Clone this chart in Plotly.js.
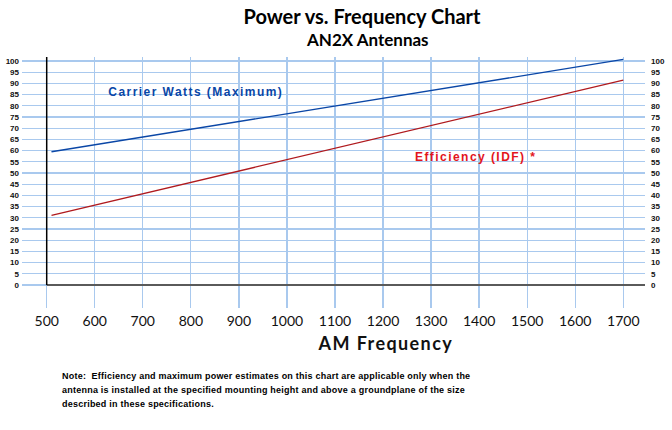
<!DOCTYPE html>
<html>
<head>
<meta charset="utf-8">
<script src="https://cdn.plot.ly/plotly-3.0.1.min.js"></script>
<style>
html,body{margin:0;padding:0;background:#fff;}
#chart{width:672px;height:430px;}
</style>
</head>
<body>
<div id="chart"></div>
<script>
// ---- data ----
const carrierFreq = [510, 1700];
const carrierWatts = [59.5, 100.7];
const effFreq = [510, 1700];
const efficiency = [31.1, 91.5];
const xTicks = [500, 600, 700, 800, 900, 1000, 1100, 1200, 1300, 1400, 1500, 1600, 1700];
const yTicks = [0, 5, 10, 15, 20, 25, 30, 35, 40, 45, 50, 55, 60, 65, 70, 75, 80, 85, 90, 95, 100];
const chartTitle = 'Power vs. Frequency Chart';
const chartSubtitle = 'AN2X Antennas';
const xTitle = 'AM Frequency';
const carrierLabel = 'Carrier Watts (Maximum)';
const effLabel = 'Efficiency (IDF) *';
const noteLines = [
  'Note:  Efficiency and maximum power estimates on this chart are applicable only when the',
  'antenna is installed at the specified mounting height and above a groundplane of the size',
  'described in these specifications.'
];

const xRange = [448.6, 1745.2];
const yRange = [-10.27, 101.8];
const gridCol = '#a9c9ee';
const noteY = [-0.2729, -0.3267, -0.3805];

const traces = [
  {x: carrierFreq, y: carrierWatts, type: 'scatter', mode: 'lines',
   line: {color: '#0a46a6', width: 1.3}, hoverinfo: 'skip', showlegend: false},
  {x: effFreq, y: efficiency, type: 'scatter', mode: 'lines',
   line: {color: '#b01a1e', width: 1.3}, hoverinfo: 'skip', showlegend: false},
  {x: [xTicks[0]], y: [yTicks[0]], yaxis: 'y2', type: 'scatter', mode: 'markers',
   marker: {opacity: 0}, hoverinfo: 'skip', showlegend: false}
];

const annotations = [
  {text: '<b>' + chartSubtitle + '</b>', xref: 'paper', yref: 'paper', x: 0.555, y: 1.0697,
   xanchor: 'center', yanchor: 'middle', showarrow: false,
   font: {family: 'Lato', size: 17, color: '#000'}},
  {text: '<b>' + xTitle + '</b>', xref: 'paper', yref: 'paper', x: 0.5827, y: -0.1394,
   xanchor: 'center', yanchor: 'middle', showarrow: false,
   font: {family: 'Lato', size: 18, color: '#111'}},
  {text: '<b>' + carrierLabel + '</b>', xref: 'x', yref: 'y', x: 810, y: 86.3,
   xanchor: 'center', yanchor: 'middle', showarrow: false,
   font: {family: 'Liberation Sans, Arial', size: 12, color: '#0a46a6'}},
  {text: '<b>' + effLabel + '</b>', xref: 'x', yref: 'y', x: 1393, y: 57,
   xanchor: 'center', yanchor: 'middle', showarrow: false,
   font: {family: 'Liberation Sans, Arial', size: 12, color: '#e3141c'}}
];
noteLines.forEach((t, i) => {
  annotations.push({text: '<b>' + t + '</b>', xref: 'paper', yref: 'paper', x: 0.061, y: noteY[i],
    xanchor: 'left', yanchor: 'middle', align: 'left', showarrow: false,
    font: {family: 'Liberation Sans, Arial', size: 9, color: '#000'}});
});

const shapes = [
  {type: 'line', xref: 'x', yref: 'y', x0: xTicks[0], x1: xRange[1], y0: yTicks[0], y1: yTicks[0],
   line: {color: '#5a5a5a', width: 2.2}},
  {type: 'line', xref: 'x', yref: 'y', x0: xTicks[0], x1: xTicks[0], y0: yTicks[0], y1: yRange[1],
   line: {color: '#000', width: 1.5}}
];

const layout = {
  width: 672, height: 430,
  margin: {l: 22, r: 27, t: 57, b: 122, pad: 0},
  paper_bgcolor: '#fff', plot_bgcolor: '#fff',
  title: {text: '<b>' + chartTitle + '</b>', x: 362 / 672, xref: 'container', xanchor: 'center',
          y: 1 - 16.7 / 430, yref: 'container', yanchor: 'middle',
          font: {family: 'Lato', size: 20, color: '#000'}},
  xaxis: {range: xRange, tickmode: 'array', tickvals: xTicks, ticktext: xTicks.map(String),
          showgrid: true, gridcolor: gridCol, gridwidth: 1.3, zeroline: false, showline: false,
          ticks: '', ticklabelstandoff: 3, automargin: false, fixedrange: true,
          tickfont: {family: 'Lato', size: 14, color: '#111'}},
  yaxis: {range: yRange, tickmode: 'array', tickvals: yTicks, ticktext: yTicks.map(String),
          showgrid: true, gridcolor: gridCol, gridwidth: 1.2, zeroline: false, showline: false,
          ticks: '', ticklabelstandoff: 2, automargin: false, fixedrange: true,
          tickfont: {family: 'Liberation Sans Narrow, Liberation Sans', size: 8, color: '#111', weight: 'bold'}},
  yaxis2: {range: yRange, overlaying: 'y', side: 'right', tickmode: 'array', tickvals: yTicks,
           ticktext: yTicks.map(String), showgrid: false, zeroline: false, showline: false,
           ticks: '', ticklabelstandoff: 5, automargin: false, fixedrange: true,
           tickfont: {family: 'Liberation Sans Narrow, Liberation Sans', size: 8, color: '#111', weight: 'bold'}},
  shapes: shapes,
  annotations: annotations,
  showlegend: false
};

Plotly.newPlot('chart', traces, layout, {staticPlot: true, displayModeBar: false}).then(() => {
  const texts = document.querySelectorAll('.annotation-text');
  texts.forEach(t => {
    const s = t.textContent;
    if (s === carrierLabel || s === effLabel) t.style.letterSpacing = '1.45px';
    else if (s === xTitle) t.style.letterSpacing = '1.4px';
    else if (noteLines.indexOf(s) >= 0) t.style.letterSpacing = '0.23px';
  });
});
</script>
</body>
</html>
